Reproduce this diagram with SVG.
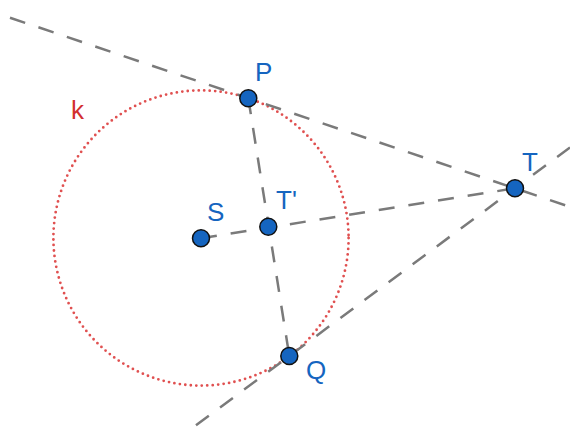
<svg xmlns="http://www.w3.org/2000/svg" width="570" height="431" viewBox="0 0 570 431">
<style>
.ln{stroke:#7a7a7a;stroke-width:2.5;stroke-dasharray:16 14;fill:none}
.pt{fill:#1565c0;stroke:#111;stroke-width:1.5}
.lb{font-family:"Liberation Sans",Arial,sans-serif;font-size:26px;fill:#1565c0}
.kl{font-family:"Liberation Sans",Arial,sans-serif;font-size:26px;fill:#d32f2f}
</style>
<rect width="570" height="431" fill="#fff"/>
<g id="circle-k">
<circle cx="201" cy="238" r="147.6" fill="none" stroke="#e05050" stroke-width="2.8" stroke-dasharray="0 5.5" stroke-linecap="round"/>
<text class="kl" x="71" y="119">k</text>
</g>
<g id="connectors">
<line class="ln" x1="10" y1="17.7" x2="570" y2="206.9"/>
<line class="ln" x1="570" y1="147.4" x2="188.4" y2="431"/>
<line class="ln" x1="201" y1="238.3" x2="515" y2="188.3"/>
<line class="ln" x1="248.3" y1="98.3" x2="289.3" y2="356"/>
</g>
<g id="node-S"><circle class="pt" cx="201" cy="238.3" r="8.5"/><text class="lb" x="207" y="220.5">S</text></g>
<g id="node-Tp"><circle class="pt" cx="268.3" cy="226.7" r="8.5"/><text class="lb" x="276" y="209">T'</text></g>
<g id="node-P"><circle class="pt" cx="248.3" cy="98.3" r="8.5"/><text class="lb" x="255" y="80.5">P</text></g>
<g id="node-T"><circle class="pt" cx="515" cy="188.3" r="8.5"/><text class="lb" x="522" y="170.5">T</text></g>
<g id="node-Q"><circle class="pt" cx="289.3" cy="356" r="8.5"/><text class="lb" x="306" y="379">Q</text></g>
</svg>
